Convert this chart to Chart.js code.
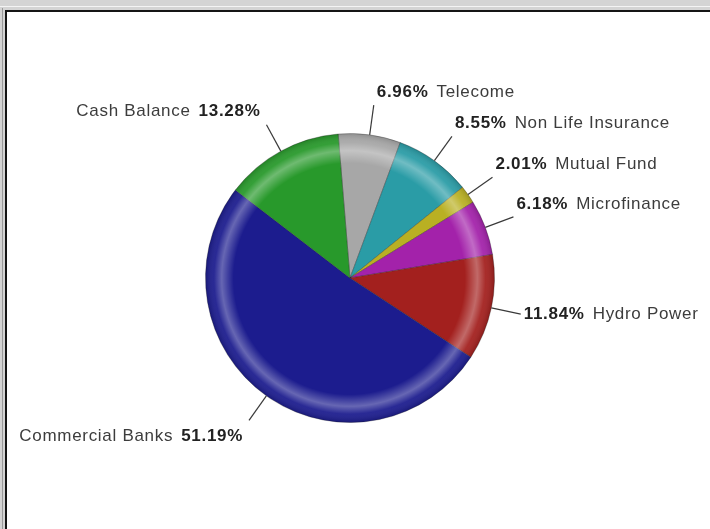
<!DOCTYPE html>
<html><head><meta charset="utf-8">
<script src="https://cdn.jsdelivr.net/npm/chart.js@4.4.1/dist/chart.umd.min.js"></script>
<style>
html,body{margin:0;padding:0;width:710px;height:529px;overflow:hidden;background:#d4d4d4;position:relative;}
#topline{position:absolute;left:0;top:6px;width:710px;height:1px;background:#f4f4f4;}
#leftline{position:absolute;left:2px;top:8px;width:1px;height:521px;background:#9a9a9a;}
#frame{position:absolute;left:5px;top:10px;width:705px;height:519px;border-top:2px solid #151515;border-left:2px solid #151515;background:#fff;box-sizing:border-box;}
#wrap{position:absolute;left:0;top:0;width:703px;height:517px;}
</style></head><body>
<div id="topline"></div><div id="leftline"></div>
<div id="frame"><div id="wrap"><canvas id="c"></canvas></div></div>
<script>
const categories = ['Telecome','Non Life Insurance','Mutual Fund','Microfinance','Hydro Power','Commercial Banks','Cash Balance'];
const shares = [6.96, 8.55, 2.01, 6.18, 11.84, 51.19, 13.28];
const sliceColors = ['#a7a7a7','#2a9ca6','#b9b023','#a322aa','#a3201e','#1c1c8e','#28992b'];

const LEAD = 30;
const FONT = '"Liberation Sans", Arial, sans-serif';
const FSIZE = 17;
const SPACING = '0.7px';

const ringPlugin = {
  id: 'ring',
  afterDatasetsDraw(chart) {
    const ctx = chart.ctx;
    const meta = chart.getDatasetMeta(0);
    const a = meta.data[0];
    const {x, y, outerRadius: R} = a.getProps(['x','y','outerRadius'], true);
    ctx.save();
    const g = ctx.createRadialGradient(x - 4, y + 4, 0, x, y, R);
    g.addColorStop(0, 'rgba(255,255,255,0)');
    g.addColorStop(0.80, 'rgba(255,255,255,0)');
    g.addColorStop(0.885, 'rgba(255,255,255,0.33)');
    g.addColorStop(0.94, 'rgba(255,255,255,0.06)');
    g.addColorStop(1, 'rgba(0,0,0,0.15)');
    ctx.beginPath();
    ctx.arc(x, y, R, 0, Math.PI * 2);
    ctx.fillStyle = g;
    ctx.fill();
    ctx.restore();
  }
};

const labelPlugin = {
  id: 'sliceLabels',
  afterDatasetsDraw(chart) {
    const ctx = chart.ctx;
    const meta = chart.getDatasetMeta(0);
    ctx.save();
    ctx.letterSpacing = SPACING;
    meta.data.forEach((arc, i) => {
      const {x, y, startAngle, endAngle, outerRadius} = arc.getProps(['x','y','startAngle','endAngle','outerRadius'], true);
      const mid = (startAngle + endAngle) / 2;
      const dx = Math.cos(mid), dy = Math.sin(mid);
      const x0 = x + dx * outerRadius, y0 = y + dy * outerRadius;
      const x1 = x + dx * (outerRadius + LEAD), y1 = y + dy * (outerRadius + LEAD);
      ctx.beginPath();
      ctx.moveTo(x0, y0); ctx.lineTo(x1, y1);
      ctx.strokeStyle = '#3a3a3a'; ctx.lineWidth = 1.2;
      ctx.stroke();

      const pct = shares[i].toFixed(2) + '%';
      const name = categories[i];
      ctx.font = 'bold ' + FSIZE + 'px ' + FONT;
      const wp = ctx.measureText(pct).width;
      ctx.font = FSIZE + 'px ' + FONT;
      const wn = ctx.measureText(name).width;
      const gap = 8;
      const total = wp + gap + wn;
      let cy;
      if (dy < -0.3) cy = y1 - 13;
      else if (dy > 0.3) cy = y1 + 16;
      else cy = y1;
      ctx.textBaseline = 'middle';
      ctx.textAlign = 'left';
      if (dx >= 0) {
        let tx = x1 + 3;
        ctx.font = 'bold ' + FSIZE + 'px ' + FONT; ctx.fillStyle = '#222';
        ctx.fillText(pct, tx, cy);
        ctx.font = FSIZE + 'px ' + FONT; ctx.fillStyle = '#3c3c3c';
        ctx.fillText(name, tx + wp + gap, cy);
      } else {
        let tx = x1 - 6 - total;
        ctx.font = FSIZE + 'px ' + FONT; ctx.fillStyle = '#3c3c3c';
        ctx.fillText(name, tx, cy);
        ctx.font = 'bold ' + FSIZE + 'px ' + FONT; ctx.fillStyle = '#222';
        ctx.fillText(pct, tx + wn + gap, cy);
      }
    });
    ctx.restore();
  }
};

new Chart(document.getElementById('c'), {
  type: 'pie',
  data: {
    labels: categories,
    datasets: [{
      data: shares,
      backgroundColor: sliceColors,
      borderColor: 'rgba(30,30,30,0.3)',
      borderWidth: 1
    }]
  },
  options: {
    responsive: true,
    maintainAspectRatio: false,
    animation: false,
    rotation: -4.7,
    layout: { padding: { left: 198, right: 215, top: 121, bottom: 106 } },
    plugins: { legend: { display: false }, tooltip: { enabled: false }, title: { display: false } }
  },
  plugins: [ringPlugin, labelPlugin]
});
</script>
</body></html>
